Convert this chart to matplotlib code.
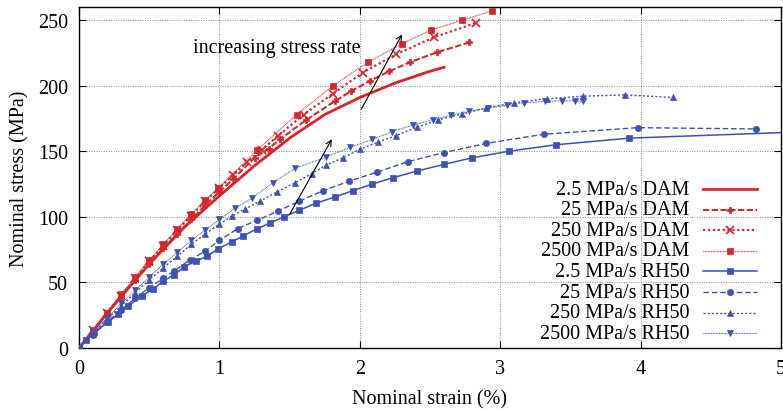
import matplotlib
matplotlib.use("Agg")
import matplotlib.pyplot as plt
from matplotlib.lines import Line2D

plt.rcParams["font.family"] = ["Liberation Serif", "DejaVu Serif"]
plt.rcParams["mathtext.fontset"] = "stix"

# --------------------------------------------------------------------------
# data
# --------------------------------------------------------------------------
dam_2p5_x = [0, 0.25, 0.5, 0.75, 1.0, 1.25, 1.5, 1.75, 2.0, 2.25, 2.5, 2.6]
dam_2p5_y = [0, 33, 64, 92, 116, 139, 160, 178, 191, 202, 211, 214]

dam_25_x = [0, 0.1, 0.2, 0.3, 0.4, 0.5, 0.6, 0.7, 0.8, 0.9, 1.0, 1.1, 1.25,
            1.35, 1.43, 1.62, 1.82, 1.94, 2.07, 2.21, 2.36, 2.55, 2.78]
dam_25_y = [0, 13, 26, 39, 52, 64, 76, 87, 98, 109, 119, 129, 145,
            152, 159, 174, 188, 196, 203.5, 211, 218, 225.5, 233]

dam_250_x = [0, 0.1, 0.2, 0.3, 0.4, 0.5, 0.6, 0.7, 0.8, 0.9, 1.0, 1.1, 1.2,
             1.3, 1.42, 1.6, 1.81, 2.02, 2.26, 2.53, 2.83]
dam_250_y = [0, 13.5, 27, 40, 53, 66, 78, 90, 101, 112, 122, 132, 142,
             151, 162, 178, 194, 210, 224, 237, 248]

dam_2500_x = [0, 0.1, 0.2, 0.3, 0.4, 0.5, 0.6, 0.7, 0.8, 0.9, 0.99, 1.27,
              1.55, 1.81, 2.06, 2.30, 2.51, 2.73, 2.94]
dam_2500_y = [0, 14, 27, 41, 54, 67, 79, 91, 102, 113, 122, 151,
              178, 200, 218, 232, 242.5, 250, 257]

rh_2p5_x = [0, 0.05, 0.11, 0.21, 0.28, 0.35, 0.45, 0.53, 0.6, 0.68, 0.75,
            0.83, 0.91, 0.99, 1.09, 1.17, 1.27, 1.36, 1.46, 1.57, 1.69, 1.82,
            1.95, 2.09, 2.24, 2.41, 2.60, 2.80, 3.06, 3.40, 3.92, 5.2]
rh_2p5_y = [0, 6, 12, 20, 26, 32, 40, 45, 51, 56, 62,
            66, 70, 75.5, 81, 85.5, 91, 95.3, 100, 105, 110.5, 115,
            120, 125, 130, 135, 140, 145, 150, 155, 160, 165]

rh_25_x = [0, 0.1, 0.2, 0.3, 0.4, 0.5, 0.6, 0.68, 0.79, 0.9, 1.0, 1.13, 1.27,
           1.42, 1.57, 1.74, 1.92, 2.12, 2.34, 2.60, 2.90, 3.31, 3.98, 4.82]
rh_25_y = [0, 10, 20, 29, 38, 46, 53, 59, 67, 74, 82, 91, 97.5,
           104.5, 112, 120, 127, 134, 142, 149, 156, 163, 168, 167]

rh_250_x = [0, 0.1, 0.2, 0.3, 0.4, 0.5, 0.6, 0.7, 0.8, 0.9, 1.0, 1.09, 1.18,
            1.29, 1.41, 1.54, 1.66, 1.76, 1.88, 2.0, 2.13, 2.26, 2.41, 2.56,
            2.73, 2.9, 3.1, 3.33, 3.59, 3.89, 4.23]
rh_250_y = [0, 11, 22, 32, 42, 52, 61, 70, 79, 87, 94.5, 100.5, 106,
            112, 119, 126, 133, 139.5, 145, 151.5, 157, 162, 168.5, 174,
            178.5, 183, 187, 190, 192, 193, 191]

rh_2500_x = [0, 0.1, 0.2, 0.3, 0.4, 0.5, 0.6, 0.7, 0.8, 0.9, 1.0, 1.11, 1.23,
             1.38, 1.54, 1.76, 1.93, 2.09, 2.23, 2.38, 2.52, 2.65, 2.78, 2.91,
             3.05, 3.17, 3.32, 3.44, 3.53, 3.59]
rh_2500_y = [0, 11.5, 23, 34, 44, 54, 64, 73, 82, 90, 98, 106.5, 114,
             126, 137, 145.5, 153, 159, 165, 170, 174, 177.5, 180.5, 183,
             185, 187, 188, 188.5, 188.5, 188]

labels = ["2.5 MPa/s DAM", "25 MPa/s DAM", "250 MPa/s DAM", "2500 MPa/s DAM",
          "2.5 MPa/s RH50", "25 MPa/s RH50", "250 MPa/s RH50", "2500 MPa/s RH50"]

xticks = [0, 1, 2, 3, 4, 5]
yticks = [0, 50, 100, 150, 200, 250]

RED = "#d7262b"
BLUE = "#3d52b3"

# style per series: (x, y, color, linestyle, lw, marker, markersize, markevery)
series = [
    (dam_2p5_x, dam_2p5_y, RED, "-", 2.0, None, 0, None),
    (dam_25_x, dam_25_y, RED, (0, (3, 1.2)), 1.5, "P", 4.5, None),
    (dam_250_x, dam_250_y, RED, (0, (1, 1.2)), 1.6, "x", 5.5, None),
    (dam_2500_x, dam_2500_y, RED, (0, (0.6, 0.6)), 0.9, "s", 5, None),
    (rh_2p5_x, rh_2p5_y, BLUE, "-", 1.1, "s", 4.5, slice(0, -1)),
    (rh_25_x, rh_25_y, BLUE, (0, (4, 2)), 1.0, "o", 4.5, None),
    (rh_250_x, rh_250_y, BLUE, (0, (1.5, 1.5)), 1.0, "^", 4.5, None),
    (rh_2500_x, rh_2500_y, BLUE, (0, (0.7, 0.7)), 0.8, "v", 4.5, None),
]

fig = plt.figure(figsize=(7.83, 4.14), dpi=100)
ax = fig.add_axes([79 / 783, 65 / 414, 702 / 783, 341 / 414])

for x, y, c, ls, lw, mk, ms, me in series:
    ax.plot(x, y, color=c, linestyle=ls, linewidth=lw, marker=mk,
            markersize=ms, markevery=me, markeredgewidth=1.2 if mk == "x" else 0.5,
            clip_on=True, zorder=3)

ax.set_xlim(0, 5)
ax.set_ylim(0, 260)
ax.set_xticks(xticks)
ax.set_yticks(yticks)
ax.tick_params(direction="in", length=5, width=0.8, top=True, right=True,
               labelsize=14.5, pad=8)
ax.grid(True, linestyle=(0, (1, 1.5)), color="#888888", linewidth=0.7)
for sp in ax.spines.values():
    sp.set_linewidth(1.0)

ax.set_xlabel("Nominal strain (%)", fontsize=14.5, labelpad=8)
ax.set_ylabel("Nominal stress (MPa)", fontsize=14.5, labelpad=6)

# arrows + annotation
ax.annotate("", xy=(1.81, 161), xytext=(1.49, 100),
            arrowprops=dict(arrowstyle="->", color="black", lw=0.8))
ax.annotate("", xy=(2.31, 241), xytext=(2.0, 180),
            arrowprops=dict(arrowstyle="->", color="black", lw=0.8))
ax.text(1.41, 229, "increasing stress rate", fontsize=14.5,
        ha="center", va="center")

# gnuplot-style legend: right-aligned label, handle on the right
row0 = 0.466
step = 0.0604
for i, (lab, s) in enumerate(zip(labels, series)):
    _, _, c, ls, lw, mk, ms, _ = s
    yy = row0 - i * step
    ax.text(0.870, yy, lab, transform=ax.transAxes, ha="right", va="center",
            fontsize=14.5, zorder=5)
    ax.add_line(Line2D([0.889, 0.966], [yy, yy], transform=ax.transAxes,
                       color=c, linestyle=ls, linewidth=lw, zorder=5))
    if mk is not None:
        ax.add_line(Line2D([0.927], [yy], transform=ax.transAxes, color=c,
                           marker=mk, markersize=ms, linestyle="none",
                           markeredgewidth=1.2 if mk == "x" else 0.5, zorder=5))

fig.savefig("out.png", dpi=100)
